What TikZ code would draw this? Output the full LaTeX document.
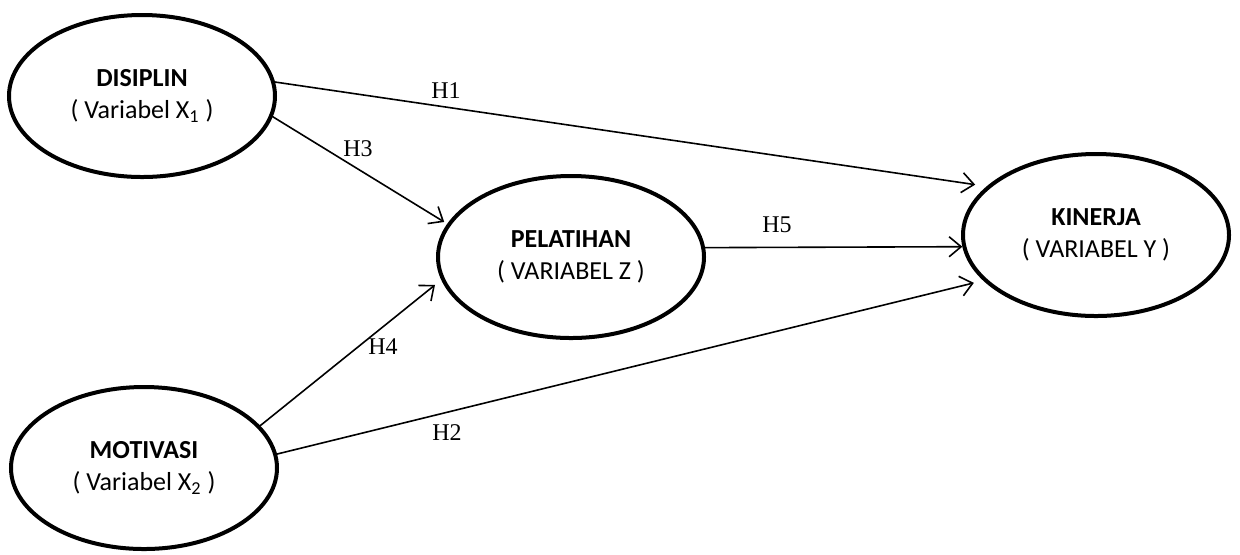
\documentclass[tikz,border=0pt]{standalone}
\usepackage{fontspec}
\setmainfont{Liberation Serif}
\newfontfamily\calibri{Carlito}
\usetikzlibrary{shapes.geometric,arrows.meta}
\tikzstyle{vertexv}=[ellipse,draw,line width=2pt,minimum width=133pt,minimum height=81pt,inner sep=0pt,align=center,font=\calibri\fontsize{13}{16}\selectfont]
\tikzstyle{edgeh}=[-{Straight Barb[length=6pt,width=10pt]},line width=0.8pt]
\tikzstyle{labelh}=[font=\fontsize{12}{14}\selectfont,inner sep=0pt]

\begin{document}
\begin{tikzpicture}[x=0.5pt,y=-0.5pt]
    \useasboundingbox (0,0) rectangle (1240,554);
    \node[vertexv] (dis) at (142,96)  {\textbf{DISIPLIN}\\( Variabel X\textsubscript{1} )};
    \node[vertexv] (pel) at (571,257) {\textbf{PELATIHAN}\\( VARIABEL Z )};
    \node[vertexv] (kin) at (1096,235) {\textbf{KINERJA}\\( VARIABEL Y )};
    \node[vertexv] (mot) at (144,468) {\textbf{MOTIVASI}\\( Variabel X\textsubscript{2} )};

    \foreach \from/\to/\cut in {dis.6/kin.156/5.8pt,dis.-9/pel.165/1.8pt,pel.4/kin.185/0pt,mot.20/pel.190/4pt,mot.6/kin.202/4.8pt}
    \draw[edgeh,shorten >=\cut] (\from) -- (\to);

    \node[labelh] (h1) at (446,91)  {H1};
    \node[labelh] (h2) at (447,433) {H2};
    \node[labelh] (h3) at (358,149) {H3};
    \node[labelh] (h4) at (383,347) {H4};
    \node[labelh] (h5) at (777,225) {H5};
\end{tikzpicture}
\end{document}
